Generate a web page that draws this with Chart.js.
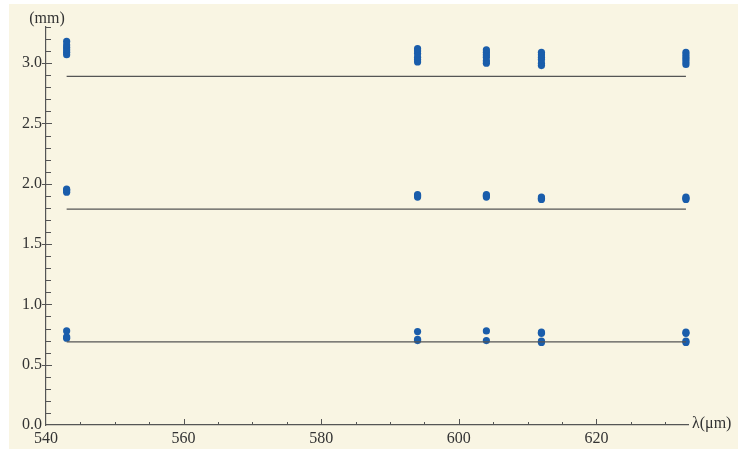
<!DOCTYPE html>
<html>
<head>
<meta charset="utf-8">
<script src="https://cdn.jsdelivr.net/npm/chart.js@4/dist/chart.umd.min.js"></script>
<style>
  html, body { margin: 0; padding: 0; background: #ffffff; }
  canvas { display: block; }
</style>
</head>
<body>
<canvas id="myChart" width="738" height="449"></canvas>
<script>
// wavelengths of the measured lines
var wavelengths = [543, 594, 604, 612, 633];

// measured values per wavelength, three orders
var upperValues = [
  [3.07, 3.09, 3.11, 3.13, 3.15, 3.18],
  [3.01, 3.03, 3.05, 3.08, 3.10, 3.12],
  [3.00, 3.02, 3.05, 3.07, 3.09, 3.11],
  [2.98, 3.00, 3.03, 3.05, 3.07, 3.09],
  [2.99, 3.01, 3.03, 3.05, 3.07, 3.09]
];
var middleValues = [
  [1.93, 1.945, 1.955],
  [1.89, 1.90, 1.91],
  [1.89, 1.90, 1.91],
  [1.87, 1.88, 1.89],
  [1.87, 1.88, 1.89]
];
var lowerValues = [
  [0.72, 0.73, 0.78],
  [0.70, 0.71, 0.775],
  [0.70, 0.78],
  [0.685, 0.695, 0.76, 0.77],
  [0.685, 0.695, 0.76, 0.77]
];

// horizontal reference levels
var referenceLevels = [2.89, 1.79, 0.69];

var xTickLabels = [540, 560, 580, 600, 620];
var yTickLabels = [0.0, 0.5, 1.0, 1.5, 2.0, 2.5, 3.0];

var points = [];
[upperValues, middleValues, lowerValues].forEach(function (group) {
  group.forEach(function (vals, i) {
    vals.forEach(function (v) {
      points.push({ x: wavelengths[i], y: v });
    });
  });
});

var lineColor = '#555555';
var dotColor = '#1a5dab';
var serif = '"Liberation Serif", "Times New Roman", serif';

var datasets = referenceLevels.map(function (lvl) {
  return {
    data: [
      { x: wavelengths[0], y: lvl },
      { x: wavelengths[wavelengths.length - 1], y: lvl }
    ],
    showLine: true,
    borderColor: lineColor,
    borderWidth: 1.2,
    pointRadius: 0,
    clip: false
  };
});
datasets.push({
  data: points,
  backgroundColor: dotColor,
  borderColor: dotColor,
  borderWidth: 0,
  pointRadius: 3.6,
  clip: false
});

// background, minor ticks and axis labels
var axesPlugin = {
  id: 'axesPlugin',
  beforeDraw: function (chart) {
    var c = chart.ctx;
    c.save();
    c.fillStyle = '#f9f5e3';
    c.fillRect(9, 4, chart.width - 9, chart.height - 4);
    c.restore();
  },
  afterDraw: function (chart) {
    var c = chart.ctx;
    var xs = chart.scales.x, ys = chart.scales.y;
    var x0 = xs.getPixelForValue(540);
    var y0 = ys.getPixelForValue(0);
    c.save();
    c.strokeStyle = lineColor;
    c.lineWidth = 1;
    c.beginPath();
    // y ticks
    for (var i = 1; i <= 33; i++) {
      var y = Math.round(ys.getPixelForValue(i / 10)) + 0.5;
      var major = i % 5 === 0;
      c.moveTo(x0 - (major ? 4 : 0), y);
      c.lineTo(x0 + (major ? 6 : 5), y);
    }
    // x ticks
    for (var v = 545; v <= 633; v += 5) {
      var x = Math.round(xs.getPixelForValue(v)) + 0.5;
      var maj = v % 20 === 0;
      c.moveTo(x, y0);
      c.lineTo(x, y0 - (maj ? 6 : 3));
    }
    c.stroke();
    c.fillStyle = '#333333';
    c.font = '16px ' + serif;
    c.textAlign = 'center';
    c.textBaseline = 'middle';
    c.fillText('(mm)', x0 + 1, 19);
    c.textAlign = 'left';
    c.fillText('\u03bb(\u03bcm)', xs.right + 4, y0 - 1);
    c.restore();
  }
};

var ctx = document.getElementById('myChart').getContext('2d');
var chart = new Chart(ctx, {
  type: 'scatter',
  data: { datasets: datasets },
  options: {
    responsive: false,
    animation: false,
    layout: {
      autoPadding: false,
      padding: { top: 27, right: 50, left: 0, bottom: 0 }
    },
    plugins: {
      legend: { display: false },
      tooltip: { enabled: false }
    },
    scales: {
      x: {
        type: 'linear',
        min: 540,
        max: 633.3,
        afterFit: function (s) { s.height = 24; },
        afterBuildTicks: function (s) {
          s.ticks = xTickLabels.map(function (v) { return { value: v }; });
        },
        grid: { display: false, drawTicks: false },
        border: { display: true, color: lineColor, width: 1.2 },
        ticks: {
          padding: 4,
          color: '#333333',
          font: { family: serif, size: 16 },
          maxRotation: 0,
          callback: function (v) { return String(v); }
        }
      },
      y: {
        type: 'linear',
        min: 0,
        max: 3.3,
        afterFit: function (s) { s.width = 46; },
        afterBuildTicks: function (s) {
          s.ticks = yTickLabels.map(function (v) { return { value: v }; });
        },
        grid: { display: false, drawTicks: false },
        border: { display: true, color: lineColor, width: 1.2 },
        ticks: {
          padding: 4,
          color: '#333333',
          font: { family: serif, size: 16 },
          callback: function (v) { return Number(v).toFixed(1); }
        }
      }
    }
  },
  plugins: [axesPlugin]
});
</script>
</body>
</html>
